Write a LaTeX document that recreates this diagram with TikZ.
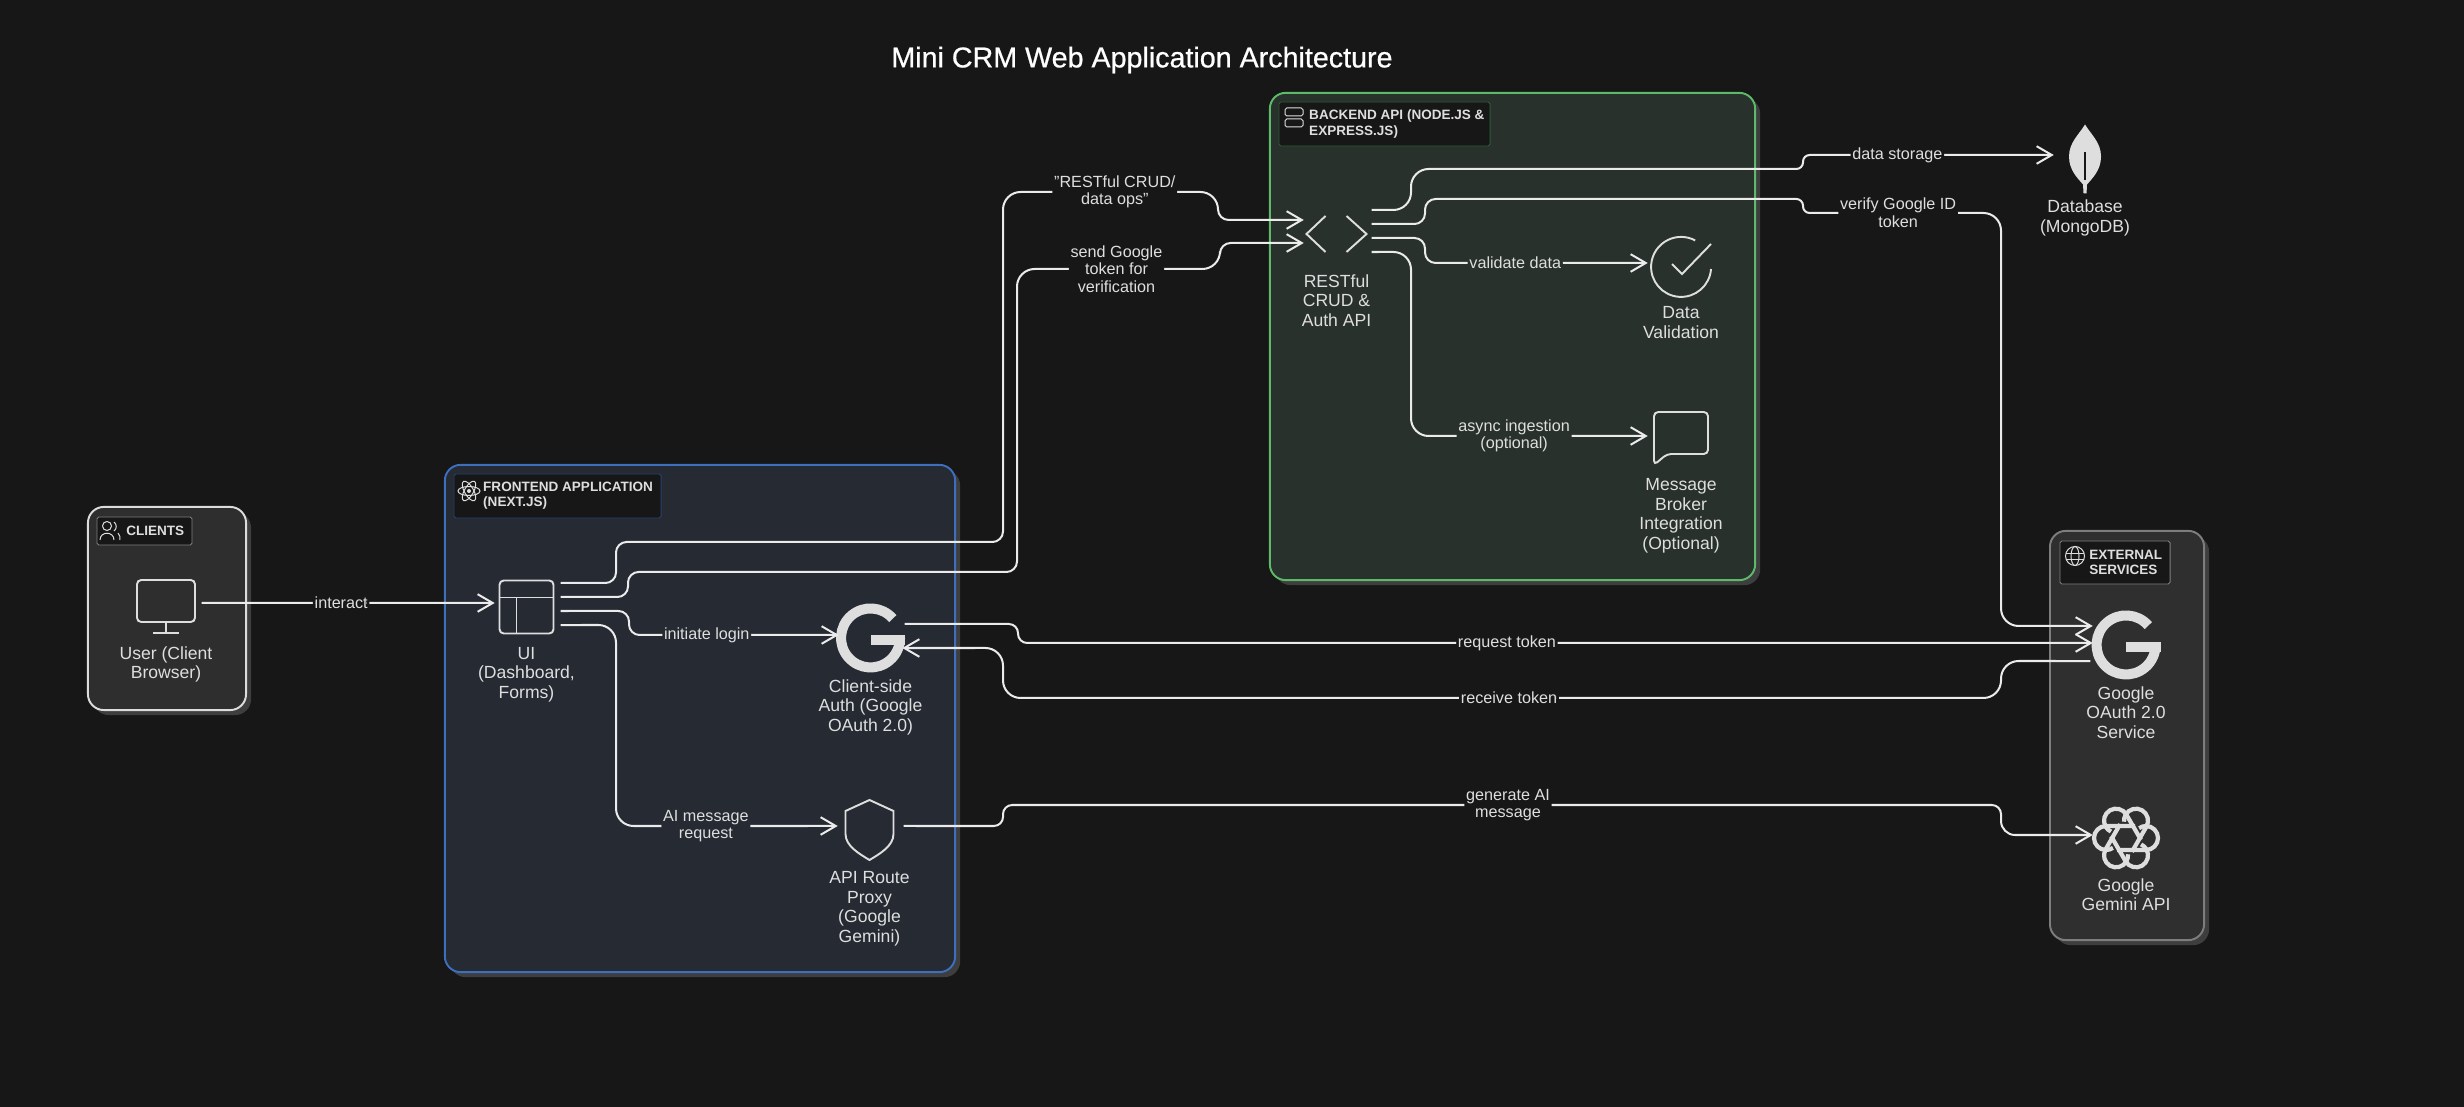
\documentclass[tikz,border=0pt]{standalone}
\usepackage{fontspec}
\setmainfont{Liberation Sans}
\newfontfamily\titlefont[FakeBold=0.7]{Liberation Sans}
\usepackage{xcolor}
\usetikzlibrary{arrows.meta, positioning, shadows}
\definecolor{pagedark}{RGB}{23,23,23}
\definecolor{linewhite}{RGB}{235,235,235}
\definecolor{captiongray}{RGB}{222,222,222}
\definecolor{shadowgray}{RGB}{62,62,62}
\definecolor{clientfill}{RGB}{46,46,46}
\definecolor{clientedge}{RGB}{220,220,220}
\definecolor{frontfill}{RGB}{37,42,51}
\definecolor{frontedge}{RGB}{62,110,190}
\definecolor{backfill}{RGB}{40,49,43}
\definecolor{backedge}{RGB}{92,186,106}
\definecolor{extfill}{RGB}{47,47,47}
\definecolor{extedge}{RGB}{125,125,125}

\tikzset{
    pics/monitoricon/.style={code={
        \draw[iconline, rounded corners=1.2pt] (-29,-26) rectangle (29,16);
        \draw[iconline] (0,16) -- (0,27) (-13,27) -- (13,27);
    }},
    pics/layouticon/.style={code={
        \draw[iconline, rounded corners=1.2pt] (-27,-26) rectangle (27,27);
        \draw[iconline] (-27,-9) -- (27,-9) (-10,-9) -- (-10,27);
    }},
    pics/googleicon/.style={code={
        \draw[draw=captiongray, line width=2.85pt] (22.3,-19.4) arc[start angle=-41, end angle=-360, radius=29.5];
        \fill[captiongray] (0,-3) rectangle (34.5,7.5);
    }},
    pics/shieldicon/.style={code={
        \draw[iconline] (0,-30) -- (24,-19) -- (24,4) .. controls (24,16) and (10,24) .. (0,30) .. controls (-10,24) and (-24,16) .. (-24,4) -- (-24,-19) -- cycle;
    }},
    pics/codeicon/.style={code={
        \draw[iconline] (-11,-20) -- (-30,-2) -- (-11,16);
        \draw[iconline] (10,-20) -- (30,-2) -- (10,16);
    }},
    pics/checkicon/.style={code={
        \draw[iconline] (30,2) arc[start angle=4, end angle=298, radius=30];
        \draw[iconline] (-9,-3) -- (1,7) -- (30,-23);
    }},
    pics/messageicon/.style={code={
        \draw[iconline, rounded corners=1.2pt] (-27,27) -- (-27,-26) -- (27,-26) -- (27,16) -- (-14,16) -- cycle;
    }},
    pics/leaficon/.style={code={
        \fill[captiongray] (0,-34) .. controls (6,-24) and (16,-16) .. (16,-2) .. controls (16,12) and (7,20) .. (2,26) -- (1.5,35) -- (-1.5,35) -- (-2,26) .. controls (-7,20) and (-16,12) .. (-16,-2) .. controls (-16,-16) and (-6,-24) .. cycle;
        \draw[draw=pagedark, line width=0.4pt] (0,-6) -- (0,22);
    }},
    pics/knoticon/.style={code={
        \foreach \a in {0,60,...,300} {
            \draw[draw=captiongray, line width=1.2pt, rotate=\a] (-9,12) -- (20,12) arc[start angle=90, end angle=-125, radius=12];
        }
    }},
    pics/usersmark/.style={code={
        \draw[markline] (-3,-5) circle[radius=4.5];
        \draw[markline] (-10,9) .. controls (-10,0) and (4,0) .. (4,9);
        \draw[markline] (4,-9) .. controls (7,-7) and (7,-2) .. (4,0) (8,2) .. controls (10,4) and (10,6) .. (10,9);
    }},
    pics/reactmark/.style={code={
        \foreach \a in {0,60,120} {
            \draw[markline, rotate=\a] (0,0) ellipse[x radius=11, y radius=4.5];
        }
        \fill[captiongray] (0,0) circle[radius=2];
    }},
    pics/servermark/.style={code={
        \draw[markline, rounded corners=0.5pt] (-9,-9) rectangle (9,-1);
        \draw[markline, rounded corners=0.5pt] (-9,2) rectangle (9,10);
    }},
    pics/globemark/.style={code={
        \draw[markline] (0,0) circle[radius=9.5];
        \draw[markline] (0,0) ellipse[x radius=4, y radius=9.5];
        \draw[markline] (-9,-3) -- (9,-3) (-9,3) -- (9,3);
    }}
}

\begin{document}
\begin{tikzpicture}[
    x=0.01cm, y=-0.01cm,
    every node/.style={font=\fontsize{5}{5.55}\selectfont, text=captiongray},
    iconline/.style={draw=captiongray, line width=0.55pt},
    markline/.style={draw=captiongray, line width=0.28pt},
    groupbox/.style={rectangle, draw=#1edge, fill=#1fill, line width=0.55pt, rounded corners=4.5pt, copy shadow={shadow xshift=0.05cm, shadow yshift=-0.05cm, fill=shadowgray, draw=none}},
    tagbox/.style={rectangle, draw=#1, fill=pagedark, line width=0.25pt, rounded corners=0.5pt},
    tagtext/.style={inner sep=0pt, align=left, font=\fontsize{3.85}{4.3}\selectfont\bfseries},
    iconbox/.style={rectangle, inner sep=0pt, draw=none},
    caption/.style={inner sep=0pt, align=center},
    flow/.style={-{Straight Barb[length=4.3pt,width=5pt]}, draw=linewhite, line width=0.57pt, rounded corners=5pt, shorten >=-0.7pt},
    flowlabel/.style={fill=#1, inner xsep=0.5pt, inner ysep=0.5pt, align=center, font=\fontsize{4.6}{5}\selectfont}
]

\fill[pagedark] (0,0) rectangle (2464,1107);
\useasboundingbox (0,0) rectangle (2464,1107);

\node[font=\titlefont\fontsize{8.15}{10}\selectfont, text=white] (title) at (1142,60) {Mini CRM Web Application Architecture};

\node[groupbox=client, minimum width=1.58cm, minimum height=2.03cm] (clients) at (167,608.5) {};
\node[tagbox=gray, minimum width=0.95cm, minimum height=0.28cm] (clientstag) at (144.5,531) {};
\pic at (110,531) {usersmark};
\node[tagtext, right=0.29cm of clientstag.west] (clientslabel) {CLIENTS};
\node[iconbox, minimum width=0.7cm, minimum height=0.54cm] (user) at (166,606) {};
\pic at (user) {monitoricon};
\node[caption, below=0.12cm of user] (usertext) {User (Client\\Browser)};

\node[groupbox=front, minimum width=5.1cm, minimum height=5.07cm] (frontend) at (700,718.5) {};
\node[tagbox=frontedge!60!black, minimum width=2.07cm, minimum height=0.44cm] (frontendtag) at (557.5,496) {};
\pic at (469,491) {reactmark};
\node[tagtext, right=0.29cm of frontendtag.west] (frontendlabel) {FRONTEND APPLICATION\\(NEXT.JS)};
\node[iconbox, minimum width=0.67cm, minimum height=0.54cm] (ui) at (526.5,606.5) {};
\pic at (ui) {layouticon};
\node[caption, below=0.12cm of ui] (uitext) {UI\\(Dashboard,\\Forms)};
\node[iconbox, minimum width=0.67cm, minimum height=0.7cm] (clientauth) at (870.5,638) {};
\pic at (clientauth) {googleicon};
\node[caption, below=0.05cm of clientauth] (clientauthtext) {Client-side\\Auth (Google\\OAuth 2.0)};
\node[iconbox, minimum width=0.67cm, minimum height=0.6cm] (proxy) at (869.5,830) {};
\pic at (proxy) {shieldicon};
\node[caption, below=0.1cm of proxy] (proxytext) {API Route\\Proxy\\(Google\\Gemini)};

\node[groupbox=back, minimum width=4.85cm, minimum height=4.87cm] (backend) at (1512.5,336.5) {};
\node[tagbox=backedge!50!black, minimum width=2.11cm, minimum height=0.44cm] (backendtag) at (1384.5,124) {};
\pic at (1294,117) {servermark};
\node[tagtext, right=0.3cm of backendtag.west] (backendlabel) {BACKEND API (NODE.JS \&\\EXPRESS.JS)};
\node[iconbox, minimum width=0.69cm, minimum height=0.4cm] (restapi) at (1336.5,236) {};
\pic at (restapi) {codeicon};
\node[caption, below=0.17cm of restapi] (restapitext) {RESTful\\CRUD \&\\Auth API};
\node[iconbox, minimum width=0.7cm, minimum height=0.6cm] (validation) at (1681,267) {};
\pic at (validation) {checkicon};
\node[caption, below=0.08cm of validation] (validationtext) {Data\\Validation};
\node[iconbox, minimum width=0.7cm, minimum height=0.54cm] (broker) at (1681,438) {};
\pic at (broker) {messageicon};
\node[caption, below=0.12cm of broker] (brokertext) {Message\\Broker\\Integration\\(Optional)};

\node[iconbox, minimum width=0.66cm, minimum height=0.7cm] (database) at (2085,158.5) {};
\pic at (database) {leaficon};
\node[caption, below=0.05cm of database] (databasetext) {Database\\(MongoDB)};

\node[groupbox=ext, minimum width=1.54cm, minimum height=4.09cm] (external) at (2127,735.5) {};
\node[tagbox=gray, minimum width=1.1cm, minimum height=0.43cm] (externaltag) at (2115,562.5) {};
\pic at (2075,556) {globemark};
\node[tagtext, right=0.29cm of externaltag.west] (externallabel) {EXTERNAL\\SERVICES};
\node[iconbox, minimum width=0.7cm, minimum height=0.7cm] (oauth) at (2126,645) {};
\pic at (oauth) {googleicon};
\node[caption, below=0.05cm of oauth] (oauthtext) {Google\\OAuth 2.0\\Service};
\node[iconbox, minimum width=0.7cm, minimum height=0.7cm] (gemini) at (2126,838) {};
\pic at (gemini) {knoticon};
\node[caption, below=0.04cm of gemini] (geminitext) {Google\\Gemini API};

\draw[flow] ([yshift=0.03cm]user.east) -- node[flowlabel=pagedark, pos=0.48] {interact} ([yshift=0.035cm]ui.west);
\draw[flow, rounded corners=3pt] ([yshift=0.235cm]ui.east) -- (616,583) -- (616,542) -- (1003,542) [rounded corners=5pt] -- (1003,192) -- node[flowlabel=pagedark, pos=0.52] {"RESTful CRUD/\\data ops"} (1218,192) [rounded corners=3pt] -- (1218,220) -- ([yshift=0.16cm]restapi.west);
\draw[flow, rounded corners=3pt] ([yshift=0.095cm]ui.east) -- (628,597) -- (628,572) -- (1017,572) [rounded corners=5pt] -- (1017,269) -- node[flowlabel=pagedark, pos=0.49] {send Google\\token for\\verification} (1220,269) [rounded corners=3pt] -- (1220,243) -- ([yshift=-0.07cm]restapi.west);
\draw[flow, rounded corners=3pt] ([yshift=-0.045cm]ui.east) -- (629,611) -- (629,635) -- node[flowlabel=frontfill, pos=0.375] {initiate login} ([yshift=0.03cm]clientauth.west);
\draw[flow] ([yshift=-0.185cm]ui.east) -- (616,625) -- (616,826) -- node[flowlabel=frontfill, pos=0.41] {AI message\\request} ([yshift=0.04cm]proxy.west);
\draw[flow, rounded corners=2.6pt] ([yshift=0.14cm]clientauth.east) -- (1018,624) -- (1018,643) -- node[flowlabel=pagedark, pos=0.456] {request token} ([yshift=0.02cm]oauth.west);
\draw[flow] ([yshift=-0.16cm]oauth.west) -- (2001,661) -- (2001,698) -- node[flowlabel=pagedark, pos=0.493] {receive token} (1003,698) -- (1003,648) -- ([yshift=-0.1cm]clientauth.east);
\draw[flow, rounded corners=2.6pt] ([yshift=0.04cm]proxy.east) -- (1003,826) -- (1003,805) -- node[flowlabel=pagedark, pos=0.506] {generate AI\\message} (2001,805) [rounded corners=4pt] -- (2001,835) -- ([yshift=0.03cm]gemini.west);
\draw[flow] ([yshift=0.26cm]restapi.east) -- (1411,210) -- (1411,169) [rounded corners=1.9pt] -- (1803,169) -- (1803,155) -- node[flowlabel=pagedark, pos=0.38] {data storage} ([yshift=0.035cm]database.west);
\draw[flow, rounded corners=3pt] ([yshift=0.12cm]restapi.east) -- (1425,224) -- (1425,199) [rounded corners=1.9pt] -- (1803,199) -- (1803,213) [rounded corners=5pt] -- node[flowlabel=pagedark, pos=0.48] {verify Google ID\\token} (2001,213) -- (2001,626) -- ([yshift=0.19cm]oauth.west);
\draw[flow, rounded corners=3pt] ([yshift=-0.02cm]restapi.east) -- (1425,238) -- (1425,263) -- node[flowlabel=backfill, pos=0.41] {validate data} ([yshift=0.04cm]validation.west);
\draw[flow] ([yshift=-0.16cm]restapi.east) -- (1411,252) -- (1411,436) -- node[flowlabel=backfill, pos=0.44] {async ingestion\\(optional)} ([yshift=0.02cm]broker.west);

\end{tikzpicture}
\end{document}
